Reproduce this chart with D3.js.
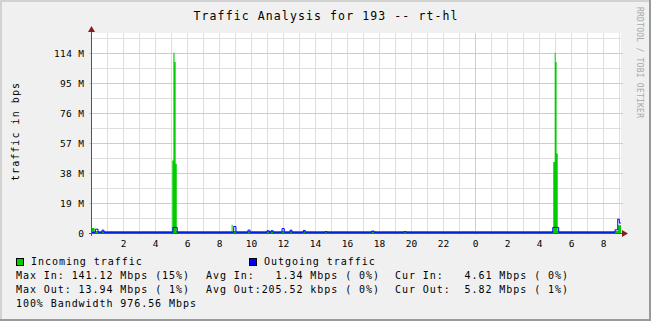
<!DOCTYPE html>
<html>
<head>
<meta charset="utf-8">
<script src="https://cdn.jsdelivr.net/npm/d3@7"></script>
<style>
  html, body { margin: 0; padding: 0; background: #f0f0f0; }
  svg { display: block; }
  text { font-family: "DejaVu Sans Mono", monospace; white-space: pre; }
</style>
</head>
<body>
<svg id="chart"></svg>
<script>
// time is hours since the first midnight, values in M (bps / 1e6)
var inHours  = [0, 0.22, 5.08, 5.15, 5.22, 5.29, 5.36, 8.79, 8.85, 28.89, 28.98, 29.04, 29.10, 29.17, 32.94, 33.125];
var inValues = [3.2, 1.2, 46, 114.3, 108.5, 44, 1.2, 5.3, 1.2, 45, 114.3, 108.5, 50.5, 1.2, 4.9, 4.9];

var outHours  = [0, 0.27, 0.44, 0.69, 0.81, 5.12, 5.39, 8.92, 9.06, 9.81, 9.94, 11.0, 11.14, 11.25, 11.39,
                 11.94, 12.08, 12.44, 12.56, 13.27, 13.39, 14.63, 14.75, 17.54, 17.69, 19.56, 19.69,
                 28.86, 29.23, 32.75, 32.92, 33.02, 33.125];
var outValues = [0.1, 2.1, 0.1, 1.5, 0.1, 3.2, 0.1, 3.8, 0.1, 1.5, 0.1, 1.1, 0.1, 1.1, 0.1,
                 2.5, 0.1, 1.5, 0.1, 1.3, 0.1, 0.5, 0.1, 0.9, 0.1, 0.5, 0.1,
                 3.2, 0.1, 1.7, 8.5, 6, 6];

var yTicks = [0, 19, 38, 57, 76, 95, 114];
var yTickLabels = ["0", "19 M", "38 M", "57 M", "76 M", "95 M", "114 M"];
var yMinorTicks = [9.5, 28.5, 47.5, 66.5, 85.5, 104.5, 123.5];
var xHourLines = d3.range(1, 34);
var xMajorHours = [24];
var xLabelHours = [2, 4, 6, 8, 10, 12, 14, 16, 18, 20, 22, 24, 26, 28, 30, 32];
var xLabels = ["2", "4", "6", "8", "10", "12", "14", "16", "18", "20", "22", "0", "2", "4", "6", "8"];

var title = "Traffic Analysis for 193 -- rt-hl";
var yTitle = "traffic in bps";
var seriesNames = ["Incoming traffic", "Outgoing traffic"];
var seriesColors = ["#00cc00", "#0000ff"];
var statsIn  = ["Max In: 141.12 Mbps (15%)", "Avg In:   1.34 Mbps ( 0%)", "Cur In:   4.61 Mbps ( 0%)"];
var statsOut = ["Max Out: 13.94 Mbps ( 1%)", "Avg Out:205.52 kbps ( 0%)", "Cur Out:  5.82 Mbps ( 1%)"];
var bandwidth = "100% Bandwidth 976.56 Mbps";

var width = 651, height = 321,
    plot = {left: 91, right: 621, top: 33, bottom: 233},
    charW = 6.92;

var svg = d3.select("#chart").attr("width", width).attr("height", height);

// background + shading
svg.append("rect").attr("width", width).attr("height", height).attr("fill", "#f0f0f0");
svg.append("rect").attr("x", 0).attr("y", 0).attr("width", width).attr("height", 2).attr("fill", "#d2d2d2");
svg.append("rect").attr("x", 0).attr("y", 0).attr("width", 2).attr("height", height).attr("fill", "#d2d2d2");
svg.append("rect").attr("x", 0).attr("y", height - 2).attr("width", width).attr("height", 2).attr("fill", "#9a9a9a");
svg.append("rect").attr("x", width - 2).attr("y", 0).attr("width", 2).attr("height", height).attr("fill", "#9a9a9a");

var x = d3.scaleLinear().domain([0, 33.125]).range([plot.left, plot.right]);
var y = d3.scaleLinear().domain([0, 126.9]).range([plot.bottom, plot.top]);

// canvas
svg.append("rect")
    .attr("x", plot.left).attr("y", plot.top)
    .attr("width", plot.right - plot.left).attr("height", plot.bottom - plot.top)
    .attr("fill", "#fff");

var grid = svg.append("g").attr("shape-rendering", "crispEdges");
grid.selectAll(".vminor").data(xHourLines).enter().append("line")
    .attr("x1", function(d) { return Math.round(x(d)) + 0.5; })
    .attr("x2", function(d) { return Math.round(x(d)) + 0.5; })
    .attr("y1", plot.top).attr("y2", plot.bottom + 2)
    .attr("stroke", "#dedede");
grid.selectAll(".hminor").data(yMinorTicks).enter().append("line")
    .attr("x1", plot.left).attr("x2", plot.right)
    .attr("y1", function(d) { return Math.round(y(d)) + 0.5; })
    .attr("y2", function(d) { return Math.round(y(d)) + 0.5; })
    .attr("stroke", "#dedede");
grid.selectAll(".vmajor").data(xMajorHours).enter().append("line")
    .attr("x1", function(d) { return Math.round(x(d)) + 0.5; })
    .attr("x2", function(d) { return Math.round(x(d)) + 0.5; })
    .attr("y1", plot.top).attr("y2", plot.bottom + 2)
    .attr("stroke", "#ecc0c0");
grid.selectAll(".hmajor").data(yTicks.slice(1)).enter().append("line")
    .attr("x1", plot.left - 2).attr("x2", plot.right + 2)
    .attr("y1", function(d) { return Math.round(y(d)) + 0.5; })
    .attr("y2", function(d) { return Math.round(y(d)) + 0.5; })
    .attr("stroke", "#ecc0c0");

// data
var inData = inHours.map(function(h, i) { return [h, inValues[i]]; });
var outData = outHours.map(function(h, i) { return [h, outValues[i]]; });

svg.append("path")
    .datum(inData)
    .attr("fill", seriesColors[0])
    .attr("d", d3.area()
        .curve(d3.curveStepAfter)
        .x(function(d) { return x(d[0]); })
        .y0(y(0))
        .y1(function(d) { return y(d[1]); }));

svg.append("path")
    .datum(outData)
    .attr("fill", "none")
    .attr("stroke", seriesColors[1])
    .attr("stroke-width", 1)
    .attr("d", d3.line()
        .curve(d3.curveStepAfter)
        .x(function(d) { return x(d[0]); })
        .y(function(d) { return y(d[1]) - 0.5; }));

// axes
var axes = svg.append("g").attr("shape-rendering", "crispEdges");
axes.append("line")
    .attr("x1", plot.left - 2).attr("x2", plot.right + 2)
    .attr("y1", plot.bottom + 0.5).attr("y2", plot.bottom + 0.5)
    .attr("stroke", "#555");
axes.append("line")
    .attr("x1", plot.left + 0.5).attr("x2", plot.left + 0.5)
    .attr("y1", plot.top - 2).attr("y2", plot.bottom + 3)
    .attr("stroke", "#555");
svg.append("path")
    .attr("d", "M" + (plot.left - 3) + "," + (plot.top - 1) + "L" + (plot.left + 0.5) + "," + (plot.top - 7) + "L" + (plot.left + 4) + "," + (plot.top - 1) + "Z")
    .attr("fill", "#802020");
svg.append("path")
    .attr("d", "M" + (plot.right + 1) + "," + (plot.bottom - 3) + "L" + (plot.right + 7) + "," + (plot.bottom + 0.5) + "L" + (plot.right + 1) + "," + (plot.bottom + 4) + "Z")
    .attr("fill", "#802020");

// tick labels
svg.selectAll(".ylab").data(yTicks).enter().append("text")
    .attr("x", 84)
    .attr("y", function(d) { return y(d) + 3.5; })
    .attr("text-anchor", "end")
    .attr("font-size", "9.5px")
    .attr("textLength", function(d, i) { return yTickLabels[i].length * 6; })
    .text(function(d, i) { return yTickLabels[i]; });

svg.selectAll(".xlab").data(xLabelHours).enter().append("text")
    .attr("x", function(d) { return x(d) + 0.5; })
    .attr("y", 247)
    .attr("text-anchor", "middle")
    .attr("font-size", "9.5px")
    .text(function(d, i) { return xLabels[i]; });

// titles
svg.append("text")
    .attr("x", width / 2).attr("y", 20)
    .attr("text-anchor", "middle")
    .attr("font-size", "11.5px")
    .attr("textLength", title.length * 8)
    .text(title);

svg.append("text")
    .attr("transform", "translate(18.5,132) rotate(-90)")
    .attr("text-anchor", "middle")
    .attr("font-size", "10px")
    .attr("textLength", yTitle.length * 7)
    .text(yTitle);

svg.append("text")
    .attr("transform", "translate(637,7) rotate(90)")
    .attr("font-size", "8px")
    .attr("fill", "#a8a8a8")
    .attr("textLength", 111)
    .text("RRDTOOL / TOBI OETIKER");

// legend
var legendX = [16, 249];
seriesNames.forEach(function(name, i) {
    svg.append("rect")
        .attr("x", legendX[i] + 0.5).attr("y", 258.5)
        .attr("width", 7).attr("height", 7)
        .attr("fill", seriesColors[i])
        .attr("stroke", "#000");
    svg.append("text")
        .attr("x", legendX[i] + 15).attr("y", 265)
        .attr("font-size", "10px")
        .attr("textLength", name.length * charW)
        .text(name);
});

var statCols = [16, 206, 395];
[statsIn, statsOut].forEach(function(row, r) {
    row.forEach(function(s, c) {
        svg.append("text")
            .attr("x", statCols[c]).attr("y", 279 + r * 14)
            .attr("font-size", "10px")
            .attr("textLength", s.length * charW)
            .text(s);
    });
});

svg.append("text")
    .attr("x", 16).attr("y", 307)
    .attr("font-size", "10px")
    .attr("textLength", bandwidth.length * charW)
    .text(bandwidth);
</script>
</body>
</html>
